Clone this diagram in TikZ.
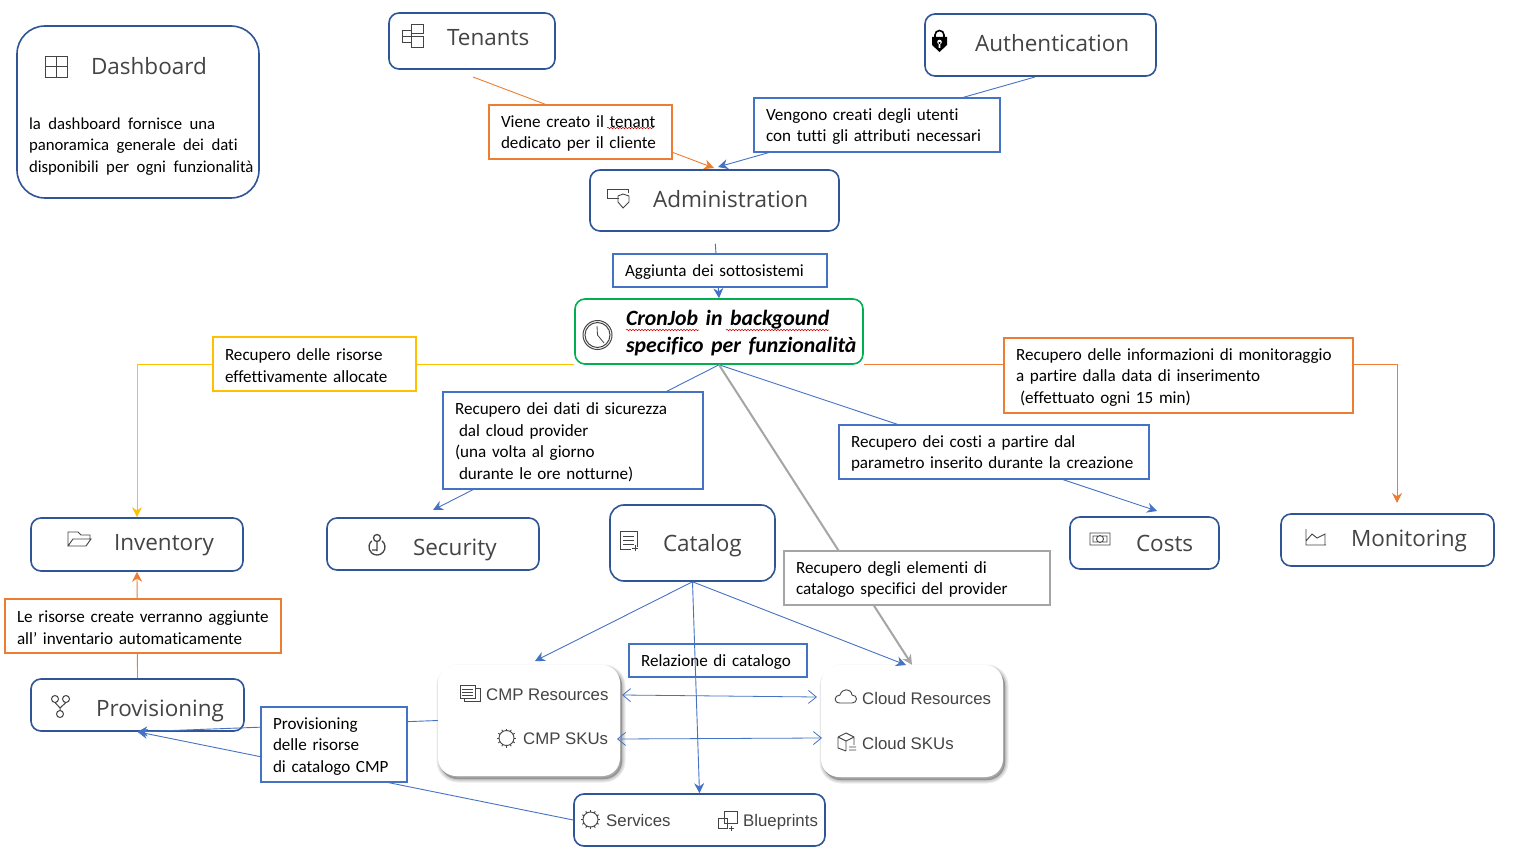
\documentclass[tikz,border=0pt]{standalone}
\usepackage{fontspec}
\setmainfont[WordSpace=0.7, Ligatures=NoCommon]{Carlito}
\newfontfamily\titlefont{Open Sans}
\newfontfamily\itemfont{Liberation Sans}
\usetikzlibrary{arrows.meta, decorations.pathmorphing}
\definecolor{boxblue}{HTML}{2F5597}
\definecolor{noteblue}{HTML}{4472C4}
\definecolor{noteorange}{HTML}{ED7D31}
\definecolor{noteyellow}{HTML}{FFC000}
\definecolor{notegray}{HTML}{A5A5A5}
\definecolor{notegreen}{HTML}{00B050}
\definecolor{inkgray}{HTML}{444444}
\newcommand{\titled}[3]{\hspace*{#1pt}\raisebox{#2pt}[16pt][0pt]{#3}}
\tikzset{
  softlayer/.style={preaction={draw=black, fill=black, opacity=0.07, line width=#1, transform canvas={shift={(2pt,-3pt)}}}},
  gearicon/.pic={
    \foreach \a in {0,30,...,330}
      \draw[icon] (\a:7) -- (\a:9.5);
    \draw[icon, fill=white] (0,0) circle (7.5);
  }
}
\begin{document}
\begin{tikzpicture}[
  x=1pt, y=-1pt,
  box/.style={rectangle, draw=boxblue, line width=1.6pt, rounded corners=10pt, fill=white, align=left, inner sep=0pt, text=inkgray, font=\titlefont\fontsize{22.5}{28}\selectfont},
  card/.style={rectangle, rounded corners=18pt, fill=white, inner sep=0pt, softlayer=7pt, softlayer=5pt, softlayer=3pt, softlayer=1pt},
  note/.style={rectangle, draw=#1, line width=1.5pt, fill=white, align=left, inner xsep=12pt, inner ysep=0pt, font=\fontsize{17.1}{21.5}\selectfont, execute at begin node={\rule{0pt}{15pt}}},
  item/.style={anchor=west, inner sep=0pt, text height=12pt, text depth=0pt, text=inkgray, font=\itemfont\fontsize{16.8}{20}\selectfont},
  icon/.style={draw=inkgray, line width=0.9pt},
  arrow/.style={draw=#1, line width=0.9pt, -{Stealth[length=10pt, width=10pt]}},
  barbs/.style={draw=noteblue, line width=0.8pt, {Straight Barb[length=8pt, width=13pt]}-{Straight Barb[length=8pt, width=13pt]}},
  squiggle/.style={draw=red!80!black, line width=0.5pt, decorate, decoration={snake, amplitude=0.8pt, segment length=3pt}}
]
  \useasboundingbox (0,0) rectangle (1525,858);

  % function boxes
  \node[box, rounded corners=28pt, minimum width=242, minimum height=172, text width=218, inner xsep=12pt] (dashboard) at (138,112) {\rule{0pt}{26pt}\titled{62}{0}{Dashboard}\\[15pt]\parbox[t]{228pt}{\rmfamily\color{black}\fontsize{16.75}{21.5}\selectfont la dashboard fornisce una\\panoramica generale dei dati\\\mbox{disponibili per ogni funzionalità}}};
  \node[box, minimum width=166, minimum height=56, text width=166] (tenants) at (472,41) {\titled{58}{3}{Tenants}};
  \node[box, minimum width=231, minimum height=62, text width=231] (auth) at (1040.5,45) {\titled{50}{1}{Authentication}};
  \node[box, minimum width=249, minimum height=61, text width=249] (admin) at (714.5,200.5) {\titled{63}{1}{Administration}};
  \node[box, draw=notegreen, minimum width=288, minimum height=65, text width=288] (cron) at (719,331.5) {\hspace*{51pt}\parbox{235pt}{\vspace*{4pt}\rmfamily\bfseries\itshape\color{black}\fontsize{21.8}{27}\selectfont CronJob in backgound\\specifico per funzionalità}};
  \node[box, minimum width=212, minimum height=53, text width=212] (inventory) at (137,544.5) {\titled{83}{2.5}{Inventory}};
  \node[box, minimum width=212, minimum height=52, text width=212] (security) at (433,544) {\titled{86}{-3}{Security}};
  \node[box, rounded corners=14pt, minimum width=165, minimum height=76, text width=165] (catalog) at (692.5,543) {\titled{53}{0}{Catalog}};
  \node[box, minimum width=149, minimum height=52, text width=149] (costs) at (1144.5,543) {\titled{66}{0}{Costs}};
  \node[box, minimum width=213, minimum height=52, text width=213] (monitoring) at (1387.5,540) {\titled{70}{2}{Monitoring}};
  \node[box, minimum width=213, minimum height=52, text width=213] (provisioning) at (137.5,705) {\titled{65}{-3}{Provisioning}};

  % catalog groups
  \node[card, minimum width=182, minimum height=111] (cmp) at (529,720.5) {};
  \node[card, minimum width=182, minimum height=112] (cloud) at (912,721) {};
  \node[box, minimum width=251, minimum height=52] (services) at (699.5,820) {};
  \node[item] (cmpres) at (486,694) {CMP Resources};
  \node[item] (cmpsku) at (523,738) {CMP SKUs};
  \node[item] (cloudres) at (862,698) {Cloud Resources};
  \node[item] (cloudsku) at (862,743) {Cloud SKUs};
  \node[item] (servicestext) at (606,820) {Services};
  \node[item] (blueprints) at (743,820) {Blueprints};

  % free arrow ends
  \coordinate (tenantsout) at (473,77);
  \coordinate (adminleft) at (714,168);
  \coordinate (adminright) at (718,167);
  \coordinate (authout) at (1035,77);
  \coordinate (secin) at (433,510);
  \coordinate (costsin) at (1157,511);
  \coordinate (monin) at (1397,503);
  \coordinate (cmpin) at (535,661);
  \coordinate (cloudin) at (906,665);
  \coordinate (cmpresend) at (622,695);
  \coordinate (cloudresend) at (817,697);
  \coordinate (cmpskuend) at (617,739);
  \coordinate (cloudskuend) at (822,738);

  % connectors behind the notes
  \draw[arrow=noteorange] (tenantsout) -- (adminleft);
  \draw[arrow=noteblue] (authout) -- (adminright);
  \draw[arrow=noteblue, shorten <=12pt] (admin.south) -- (cron.north);
  \draw[arrow=noteyellow] (cron.south west) -| (inventory.north);
  \draw[arrow=noteorange] (cron.south east) -| (monin);
  \draw[arrow=noteblue] (cron.south) -- (secin);
  \draw[arrow=noteblue] (cron.south) -- (costsin);
  \draw[arrow=noteorange] (provisioning.north) -- (inventory.south);
  \draw[arrow=noteblue] (cmp.west) -- (provisioning.south);
  \draw[arrow=noteblue] (services.west) -- (provisioning.south);
  \draw[arrow=notegray, line width=2pt] (cron.south) -- (cloud.north);

  % notes
  \node[note=noteorange, text width=159, minimum height=54] (notetenant) at (580.5,132) {Viene creato il tenant\\dedicato per il cliente};
  \node[note=noteblue, text width=222, minimum height=54] (noteusers) at (877,125) {Vengono creati degli utenti\\con tutti gli attributi necessari};
  \node[note=noteblue, text width=190, minimum height=33] (notesub) at (720,270.5) {Aggiunta dei sottosistemi};
  \node[note=noteyellow, text width=179, minimum height=54] (noteinv) at (314.5,364) {Recupero delle risorse\\effettivamente allocate};
  \node[note=noteorange, text width=325, minimum height=75] (notemon) at (1178.5,375.5) {\mbox{Recupero delle informazioni di monitoraggio}\\a partire dalla data di inserimento\\\hspace*{4pt}(effettuato ogni 15 min)};
  \node[note=noteblue, text width=236, minimum height=97] (notesec) at (573,440.5) {Recupero dei dati di sicurezza\\\hspace*{4pt}dal cloud provider\\(una volta al giorno\\\hspace*{4pt}durante le ore notturne)};
  \node[note=noteblue, text width=286, minimum height=54] (notecost) at (994,452) {Recupero dei costi a partire dal\\\mbox{parametro inserito durante la creazione}};
  \node[note=notegray, text width=242, minimum height=54] (notecat) at (917,578) {Recupero degli elementi di\\catalogo specifici del provider};
  \node[note=noteblue, text width=154, minimum height=33] (noterel) at (718,660.5) {Relazione di catalogo};
  \node[note=noteorange, text width=252, minimum height=54] (noteres) at (143,626) {\mbox{Le risorse create verranno aggiunte}\\all’ inventario automaticamente};
  \node[note=noteblue, text width=122, minimum height=75] (noteprov) at (334,744.5) {Provisioning\\delle risorse\\di catalogo CMP};

  % connectors in front
  \draw[arrow=noteblue] (catalog.south) -- (cmpin);
  \draw[arrow=noteblue] (catalog.south) -- (cloudin);
  \draw[arrow=noteblue] (catalog.south) -- (services.north);
  \draw[barbs] (cmpresend) -- (cloudresend);
  \draw[barbs] (cmpskuend) -- (cloudskuend);

  % spell check marks
  \draw[squiggle] (607,128) -- (654,128);
  \draw[squiggle] (626,330) -- (699,330);
  \draw[squiggle] (726,330) -- (829,330);

  % icons
  \draw[icon] (45,56) rectangle (67,77) (56,56) -- (56,77) (45,66) -- (67,66);
  \draw[icon] (402,30) rectangle (411,42) (411,24) rectangle (423,33) (411,36) rectangle (423,47) (402,36) -- (411,36);
  \draw[black, line width=1.6pt] (935,38) -- (935,35) arc[start angle=180, end angle=360, radius=4.5] -- (944,38);
  \fill[black] (932,37) -- (947,37) -- (947,45) -- (939.5,52) -- (932,45) -- cycle;
  \fill[white] (939.5,42) circle (2.3) (938.6,42) rectangle (940.4,48);
  \draw[icon] (619,198) -- (607,198) -- (607,189) -- (628,189) -- (628,193);
  \draw[icon] (618,196) -- (623,194) -- (629,196) -- (629,202) -- (623,208) -- (618,202) -- cycle;
  \draw[inkgray, line width=1pt] (597.5,335) circle (14.5) (597.5,335) circle (12.5);
  \draw[inkgray, line width=0.8pt] (597,326) -- (597.5,335) -- (604,343);
  \draw[icon] (68,546) -- (68,532) -- (78,532) -- (81,535) -- (90,535) -- (90,539) (68,546) -- (73,539) -- (91,539) -- (86,546) -- cycle;
  \draw[inkgray, line width=1.3pt] (377,538) circle (3.5) (382.1,540.9) arc[start angle=-50, end angle=230, radius=8] (377,541.5) -- (377,551) (372,550) -- (377,550);
  \draw[icon] (637,547) -- (637,531) -- (620,531) -- (620,549) -- (631,549) (623,536) -- (634,536) (623,540) -- (634,540) (623,544) -- (634,544) (635,545) -- (635,551) (632,548) -- (638,548);
  \draw[icon] (1090,533) rectangle (1110,545) (1100,539) circle (3.5) (1093,536) rectangle (1107,542);
  \draw[icon] (1306,529) -- (1306,545) -- (1326,545) (1306,541) -- (1312,534) -- (1317,538) -- (1325,534) -- (1325,545);
  \draw[inkgray, line width=1pt] (55,699) circle (3.5) (66,699) circle (3.5) (60,714) circle (3.5) (55,702.5) -- (60,708) -- (66,702.5) (60,708) -- (60,710.5);
  \draw[icon, fill=white] (464,688) rectangle (480,701);
  \draw[icon, fill=white] (460,685) rectangle (475,698) (462,689) -- (473,689) (462,692) -- (473,692) (462,695) -- (473,695);
  \pic at (506.5,738) {gearicon};
  \pic at (590.5,819.5) {gearicon};
  \draw[icon] (840,703) .. controls (833,703) and (834,695) .. (840,695) .. controls (842,688) and (851,688) .. (852,695) .. controls (858,695) and (858,703) .. (852,703) -- cycle;
  \draw[icon] (838,737) -- (846,733) -- (854,737) -- (854,745) (838,737) -- (838,748) -- (846,751) (838,737) -- (846,741) -- (854,737) (846,741) -- (846,751) (849,747) -- (856,747) (849,750) -- (856,750);
  \draw[icon] (718,818) rectangle (727,828) (724,811) rectangle (737,823) (731,826) -- (731,831) (728.5,828.5) -- (733.5,828.5);
\end{tikzpicture}
\end{document}
